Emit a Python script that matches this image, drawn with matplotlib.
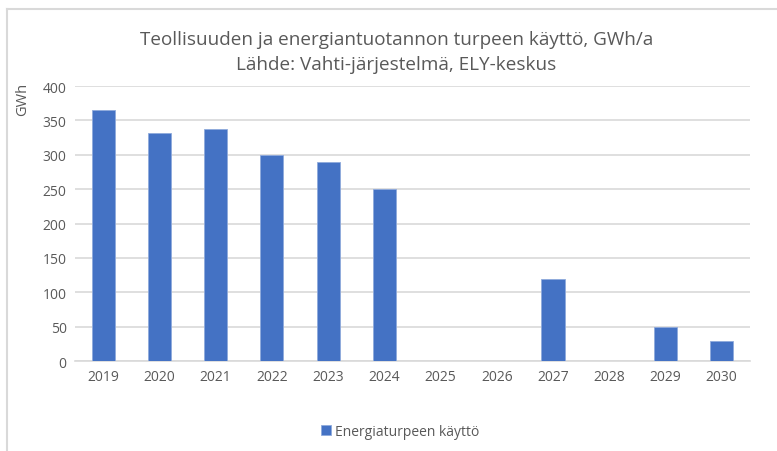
import matplotlib.pyplot as plt
from matplotlib.lines import Line2D

# ── Data ──────────────────────────────────────────────────────────────────────
years = ['2019', '2020', '2021', '2022', '2023', '2024',
         '2025', '2026', '2027', '2028', '2029', '2030']
usage = [365, 332, 337, 300, 289, 250, 0, 0, 119, 0, 50, 29]
y_ticks = [0, 50, 100, 150, 200, 250, 300, 350, 400]

plt.rcParams['font.family'] = ['Open Sans', 'DejaVu Sans']
text_color = '#595959'

fig = plt.figure(figsize=(7.77, 4.52), dpi=100)
ax = fig.add_axes([0.0965, 0.199, 0.8685, 0.6085])

x = range(len(years))
ax.bar(x, usage, width=0.41, color='#4472C4', edgecolor='#8FAADC',
       linewidth=0.6, label='Energiaturpeen käyttö', zorder=3)

ax.set_xlim(-0.5, len(years) - 0.5)
ax.set_ylim(0, 400)
ax.set_yticks(y_ticks)
ax.set_xticks(list(x))
ax.set_xticklabels(years)
ax.tick_params(axis='both', length=0, labelsize=10, colors=text_color, pad=6)
ax.yaxis.grid(True, color='#D9D9D9', linewidth=1.2, zorder=0)
for side in ['top', 'right', 'left']:
    ax.spines[side].set_visible(False)
ax.spines['bottom'].set_color('#D9D9D9')
ax.spines['bottom'].set_linewidth(1.2)

fig.text(0.51, 0.911, 'Teollisuuden ja energiantuotannon turpeen käyttö, GWh/a',
         ha='center', va='center', fontsize=13.6, color=text_color)
fig.text(0.51, 0.857, 'Lähde: Vahti-järjestelmä, ELY-keskus',
         ha='center', va='center', fontsize=13.6, color=text_color)
fig.text(0.029, 0.78, 'GWh', rotation=90, ha='center', va='center',
         fontsize=10.5, color=text_color)

fig.legend(loc='center', bbox_to_anchor=(0.515, 0.043), frameon=False,
           fontsize=10, labelcolor=text_color, handlelength=0.7,
           handleheight=0.7, handletextpad=0.3)

# partial frame (top and left edges only, as in the reference screenshot)
fig.lines.append(Line2D([0.009, 1.0], [0.978, 0.978], transform=fig.transFigure,
                        color='#D9D9D9', linewidth=1.5))
fig.lines.append(Line2D([0.009, 0.009], [0.0, 0.978], transform=fig.transFigure,
                        color='#D9D9D9', linewidth=1.5))

plt.savefig('out.png', dpi=100)
